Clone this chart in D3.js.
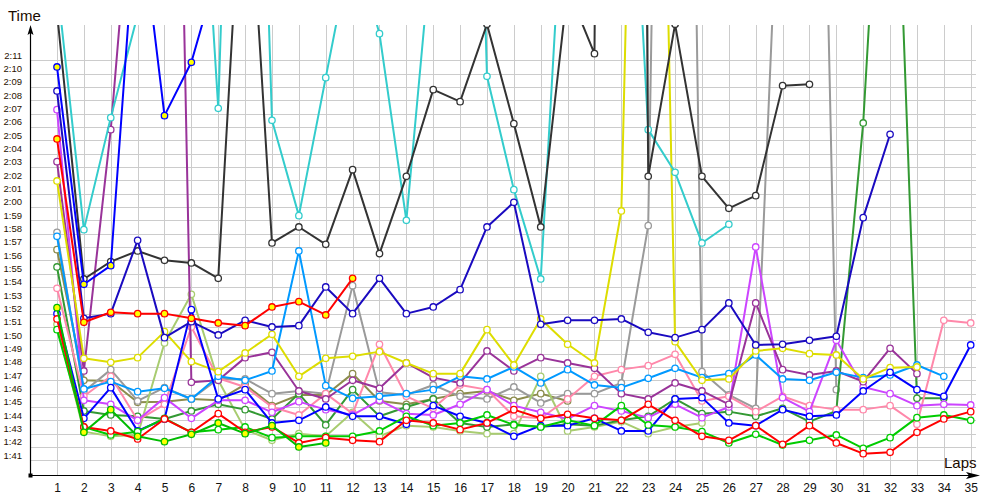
<!DOCTYPE html>
<html><head><meta charset="utf-8">
<script src="https://cdn.jsdelivr.net/npm/d3@7"></script>
<style>body{margin:0;background:#fff}svg{display:block}</style>
</head><body>
<svg id="c" width="1000" height="500"></svg>
<script>
// ---- data (lap times in seconds; index 0 = lap 1) ----
const laps = [1,2,3,4,5,6,7,8,9,10,11,12,13,14,15,16,17,18,19,20,21,22,23,24,25,26,27,28,29,30,31,32,33,34,35];
const tickSeconds = [101,102,103,104,105,106,107,108,109,110,111,112,113,114,115,116,117,118,119,120,121,122,123,124,125,126,127,128,129,130,131];
const tickLabels = ["1:41","1:42","1:43","1:44","1:45","1:46","1:47","1:48","1:49","1:50","1:51","1:52","1:53","1:54","1:55","1:56","1:57","1:58","1:59","2:00","2:01","2:02","2:03","2:04","2:05","2:06","2:07","2:08","2:09","2:10","2:11"];

const black = [134.6,114.6,115.9,116.7,116.0,115.8,114.65,150,117.3,118.5,117.2,122.8,116.5,122.3,128.8,127.9,133.7,126.25,118.5,136.4,131.5,400,122.3,133.7,122.3,119.9,120.85,129.1,129.2];
const cyan = [136.8,118.3,126.7,134.4,180,160,127.4,190,126.5,119.35,129.7,140,133.0,119.0,141,200,129.8,121.3,114.6,150,170,163,125.8,122.6,117.3,118.7];
const blueA = [130.5,114.2,115.6,143.6,126.85,130.85,137.9];
const navy = [128.7,111.65,112.0,117.5,110.2,111.4,110.4,111.5,111.0,111.1,114.0,112.0,114.65,112.0,112.5,113.8,118.5,120.35,111.2,111.5,111.5,111.6,110.6,110.2,110.8,112.8,109.65,109.7,110.0,110.3,119.2,125.45];
const blueB = [112.0,104.15,106.45,103.2,104.1,112.3,105.6,106.3,103.8,104.0,105.0,104.3,104.3,103.7,105.1,104.3,103.8,102.8,103.6,103.6,104.15,103.2,103.2,105.6,105.7,103.8,103.6,104.8,104.3,104.4,106.2,107.6,106.3,105.8,109.65];
const lightBlue = [117.8,106.35,106.9,106.15,106.4,105.6,107.3,107.0,107.7,116.7,106.6,105.65,105.8,106.0,106.3,107.3,107.1,108.0,106.8,107.8,106.65,106.45,107.15,107.9,107.2,107.5,108.9,107.1,107.0,107.6,107.2,107.4,108.15,107.3];
const yellow = [121.95,108.65,108.35,108.7,110.65,108.4,107.65,109.05,110.45,107.3,108.65,108.8,109.15,108.3,107.5,107.5,110.8,108.15,111.6,109.7,108.3,119.7,206,109.9,107.0,107.1,109.2,109.4,109.0,108.9,107.1,107.95,108.0];
const purple = [123.4,107.7,125.8,150,207,106.85,107.0,108.7,109.1,106.2,105.6,107.0,106.4,108.3,107.2,106.8,109.2,107.7,108.7,108.3,107.9,106.0,105.6,106.8,106.2,105.2,112.8,107.8,107.4,107.7,106.9,109.4,107.5];
const magenta = [127.3,105.5,105.2,104.0,105.7,104.15,105.5,105.5,104.6,105.4,104.8,104.4,105.5,104.5,104.4,105.2,106.3,105.1,104.6,104.1,105.1,104.7,104.2,105.2,104.2,105.0,117.0,105.7,104.65,110.0,106.5,106.0,105.1,105.2,105.15];
const pink = [113.9,105.8,107.3,104.0,105.2,111.0,107.15,106.5,105.0,104.4,106.0,104.5,109.7,105.8,104.9,106.65,106.3,104.3,104.15,105.6,107.3,107.8,108.1,108.95,105.45,105.8,104.65,105.8,105.1,104.8,104.8,105.1,103.7,111.5,111.3];
const gray = [118.1,106.15,107.8,105.45,106.45,105.6,107.1,107.1,106.0,106.2,106.0,114.1,106.1,105.9,106.65,105.8,105.6,106.5,105.3,106.0,106.0,106.8,118.6,240,107.65,105.9,104.9,152,200,106.3];
const olive = [116.8,107.0,106.95,105.35,105.4,105.6,105.5,106.7,105.1,105.9,105.9,107.5,105.45,105.2,105.6,106.0,106.2,105.5,106.0,105.45];
const lightGreen = [111.2,103.15,102.8,102.9,109.8,113.45,107.0,103.3,102.5,103.0,102.8,104.6,102.8,103.6,103.5,103.2,103.0,103.0,107.3,103.2,103.5,103.9,103.0,103.5,103.8];
const darkGreen = [115.5,104.7,104.4,104.3,104.1,104.7,105.2,104.8,104.1,106.0,103.65,106.3,104.3,105.0,105.6,103.8,103.5,103.7,103.5,103.7,103.6,104.0,104.3,105.6,104.5,104.65,104.3,104.9,103.9,104.7,126.3,161,105.65,105.65];
const greenA = [112.45,103.1,104.8,102.8,102.4,102.95,103.8,103.0,103.6,102.0,102.3];
const greenB = [110.8,103.5,102.9,103.15,104.15,103.1,103.3,103.5,102.7,102.8,102.8,102.8,103.2,104.3,103.6,103.8,104.4,103.65,103.5,104.0,103.6,105.1,103.65,103.5,103.15,102.3,102.95,102.15,102.5,102.9,101.9,102.7,104.2,104.4,104.0];
const redA = [125.1,111.35,112.1,112.0,112.0,111.65,111.3,111.1,112.5,112.9,111.9,114.65];
const redB = [111.6,103.5,103.2,102.6,104.1,103.1,104.5,103.1,103.5,102.3,102.7,102.5,102.4,104.0,103.8,103.3,103.8,104.8,104.15,104.45,104.15,104.0,105.2,104.0,102.8,102.5,103.6,102.2,103.6,102.3,101.5,101.6,103.1,104.1,104.65];

const series = [
  {v: olive, c: "#8c8c4c", f: "#fff"},
  {v: gray, c: "#9a9a9a", f: "#fff"},
  {v: lightGreen, c: "#a8cc70", f: "#fff"},
  {v: darkGreen, c: "#339933", f: "#fff"},
  {v: pink, c: "#ff88aa", f: "#fff"},
  {v: magenta, c: "#cc44ff", f: "#fff"},
  {v: purple, c: "#993399", f: "#fff"},
  {v: lightBlue, c: "#0099ff", f: "#fff"},
  {v: yellow, c: "#dddd00", f: "#fff"},
  {v: cyan, c: "#33cccc", f: "#fff"},
  {v: black, c: "#333333", f: "#fff"},
  {v: blueB, c: "#0000ff", f: "#fff"},
  {v: navy, c: "#1a0ac0", f: "#fff"},
  {v: greenB, c: "#00cc00", f: "#fff"},
  {v: redB, c: "#ff0000", f: "#fff"},
  {v: greenA, c: "#00bb00", f: "#ffff00"},
  {v: blueA, c: "#0000ff", f: "#ffff00"},
  {v: redA, c: "#ff0000", f: "#ffff00"}
];

// ---- layout ----
const svg = d3.select("#c");
const x = d3.scaleLinear().domain([1, 35]).range([57, 970.7]);
const y = d3.scaleLinear().domain([101, 131]).range([460.3, 60.3]);
const pLeft = 30, pBottom = 475, pTop = 25, pRight = 976;

// grid
const grid = svg.append("g").attr("stroke", "#cccccc").attr("stroke-width", 1).attr("shape-rendering", "crispEdges");
grid.selectAll("line.h").data(tickSeconds).join("line").attr("class", "h")
  .attr("x1", pLeft).attr("x2", pRight).attr("y1", d => Math.round(y(d)) + 0.5).attr("y2", d => Math.round(y(d)) + 0.5);
grid.selectAll("line.v").data(laps).join("line").attr("class", "v")
  .attr("x1", d => Math.round(x(d)) + 0.5).attr("x2", d => Math.round(x(d)) + 0.5).attr("y1", pTop).attr("y2", pBottom);

// clip
svg.append("defs").append("clipPath").attr("id", "clip")
  .append("rect").attr("x", pLeft + 1).attr("y", pTop).attr("width", pRight + 10 - pLeft).attr("height", pBottom - pTop);

const plot = svg.append("g").attr("clip-path", "url(#clip)");
const line = d3.line().x((d, i) => x(laps[i])).y(d => y(d));
series.forEach(s => {
  const g = plot.append("g");
  g.append("path").attr("d", line(s.v)).attr("fill", "none").attr("stroke", s.c).attr("stroke-width", 2).attr("stroke-linejoin", "round");
  g.selectAll("circle").data(s.v).join("circle")
    .attr("cx", (d, i) => x(laps[i])).attr("cy", d => y(d)).attr("r", 3.2)
    .attr("fill", s.f).attr("stroke", s.c).attr("stroke-width", 1.3);
});

// axes
const xAxis = d3.axisBottom(x).tickValues(laps).tickSize(0).tickPadding(8).tickFormat(d3.format("d"));
const gx = svg.append("g").attr("transform", `translate(0,${pBottom})`).call(xAxis);
gx.select(".domain").remove();
gx.selectAll("text").attr("font-family", "Liberation Sans, Arial, sans-serif").attr("font-size", 12).attr("fill", "#111");

const yAxis = d3.axisLeft(y).tickValues(tickSeconds).tickSize(0).tickPadding(8).tickFormat((d, i) => tickLabels[i]);
const gy = svg.append("g").attr("transform", `translate(${pLeft},0)`).call(yAxis);
gy.select(".domain").remove();
gy.selectAll("text").attr("font-family", "Liberation Sans, Arial, sans-serif").attr("font-size", 9.5).attr("fill", "#2a1200").attr("dy", "-2px");

// axis lines + arrows
svg.append("line").attr("x1", pLeft + 0.5).attr("x2", pLeft + 0.5).attr("y1", pBottom).attr("y2", 30).attr("stroke", "#000").attr("stroke-width", 1.2);
svg.append("line").attr("x1", pLeft).attr("x2", 972).attr("y1", pBottom + 0.5).attr("y2", pBottom + 0.5).attr("stroke", "#000").attr("stroke-width", 1.2);
svg.append("path").attr("d", `M${pLeft + 0.5},25 L${pLeft + 3.5},35 L${pLeft + 0.5},33 L${pLeft - 2.5},35 Z`).attr("fill", "#000");
svg.append("path").attr("d", `M980,${pBottom + 0.5} L966,${pBottom - 3} L969,${pBottom + 0.5} L966,${pBottom + 4} Z`).attr("fill", "#000");
svg.append("rect").attr("x", pLeft - 1.5).attr("y", pBottom - 1.5).attr("width", 4).attr("height", 4).attr("fill", "#000");

svg.append("text").attr("x", 8).attr("y", 21).attr("font-family", "Liberation Sans, Arial, sans-serif").attr("font-size", 15).attr("fill", "#1a0a00").text("Time");
svg.append("text").attr("x", 944).attr("y", 468).attr("font-family", "Liberation Sans, Arial, sans-serif").attr("font-size", 15).attr("fill", "#1a0a00").text("Laps");
</script>
</body></html>
